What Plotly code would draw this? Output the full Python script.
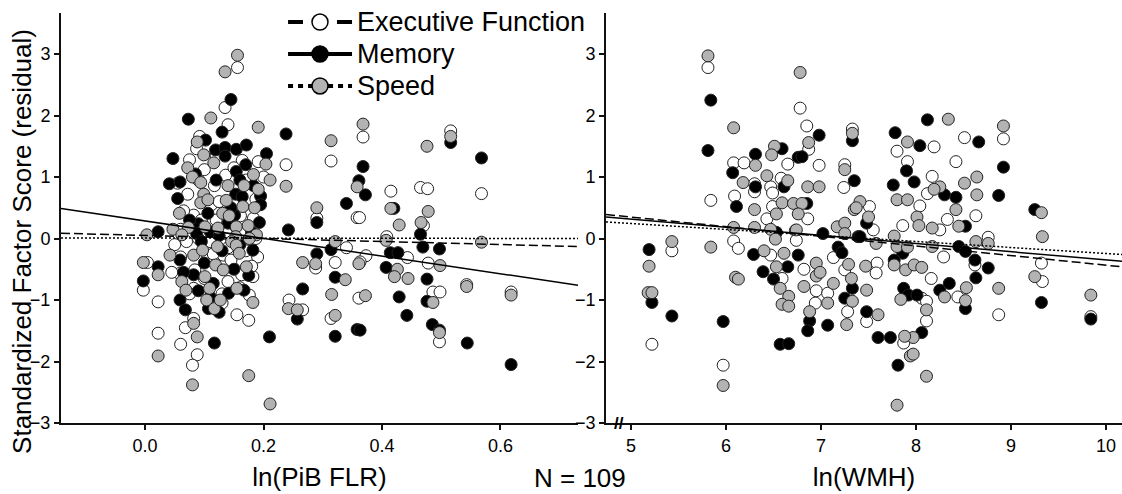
import plotly.graph_objects as go

# ---- data ----
# left panel: ln(PiB FLR)
pib_ef_x = [0.156, 0.135, 0.140, 0.092, 0.087, 0.075, 0.100, 0.164, 0.191, 0.136, 0.117, 0.072, 0.112, 0.148, 0.187,
            0.082, 0.161, 0.183, 0.137, 0.004, -0.003, 0.022, 0.022, 0.060, 0.058, 0.082, 0.068, 0.060, 0.088, 0.080,
            0.084, 0.104, 0.082, 0.130, 0.132, 0.150, 0.163, 0.182, 0.176, 0.155, 0.175, 0.187,
            0.368, 0.314, 0.238, 0.290, 0.358, 0.362, 0.415, 0.465, 0.477, 0.470, 0.516, 0.568, 0.340, 0.408, 0.373,
            0.443, 0.288, 0.321, 0.363, 0.478, 0.361, 0.486, 0.498, 0.543, 0.618, 0.243, 0.266, 0.314, 0.497,
            0.050, 0.120, 0.090, 0.170, 0.045, 0.100, 0.140, 0.120, 0.150, 0.090, 0.065, 0.170, 0.110, 0.160, 0.200,
            0.070, 0.190, 0.130, 0.155, 0.125, 0.180, 0.055, 0.095, 0.145, 0.075, 0.115, 0.060, 0.140, 0.160]
pib_ef_y = [2.78, 2.13, 1.85, 1.66, 1.46, 1.28, 1.12, 1.27, 1.25, 1.03, 0.86, 0.72, 0.55, 0.57, 0.64,
            0.38, 0.37, 0.33, 0.08, -0.39, -0.84, -1.03, -1.54, -0.30, -0.57, -1.30, -1.45, -1.72, -1.89, -2.06,
            -0.51, -0.35, -0.81, -0.90, -0.27, -0.49, -0.59, -0.62, -0.92, -1.24, -1.33, 0.00,
            1.65, 1.26, 1.20, 0.33, 0.34, 0.34, 0.77, 0.83, 0.81, 0.21, 1.75, 0.73, -0.15, 0.03, -0.28,
            -0.31, -0.48, -0.39, -0.38, -0.40, -0.97, -0.87, -0.87, -0.75, -0.87, -1.00, -1.16, -1.30, -1.68,
            -0.10, 0.30, 0.00, -0.20, -0.55, -0.65, -0.70, 1.35, 1.15, 0.95, 0.45, 0.95, -0.05, 0.10, 1.00,
            -0.05, -0.30, -1.05, 0.80, 0.60, -0.45, 0.90, 0.30, -0.35, -0.90, -0.25, 0.15, -0.15, -0.80]

pib_mem_x = [0.145, 0.073, 0.130, 0.102, 0.119, 0.135, 0.135, 0.154, 0.171, 0.205, 0.047, 0.154, 0.041, 0.059, 0.183,
             0.153, 0.164, 0.106, 0.151, 0.193, 0.090, 0.022, 0.087, 0.110, 0.022, -0.003, 0.059, 0.059, 0.068, 0.117,
             0.210, 0.082, 0.115, 0.107, 0.141, 0.167, 0.182,
             0.238, 0.368, 0.361, 0.372, 0.195, 0.290, 0.340, 0.420, 0.465, 0.516, 0.568, 0.242, 0.314, 0.290, 0.414,
             0.427, 0.469, 0.497, 0.407, 0.321, 0.266, 0.429, 0.476, 0.476, 0.257, 0.321, 0.358, 0.363, 0.442, 0.485,
             0.497, 0.544, 0.618,
             0.095, 0.125, 0.160, 0.075, 0.140, 0.180, 0.065, 0.100, 0.150, 0.120, 0.170, 0.085, 0.130, 0.195, 0.055,
             0.110, 0.145, 0.175, 0.090, 0.160, 0.125]
pib_mem_y = [2.26, 1.94, 1.73, 1.60, 1.44, 1.48, 1.34, 1.45, 1.52, 1.38, 1.30, 1.09, 0.89, 0.92, 0.86,
             0.72, 0.68, 0.41, 0.38, 0.26, 0.24, 0.11, 0.08, 0.11, -0.46, -0.69, -0.35, -1.00, -1.16, -1.70,
             -1.60, -0.59, -0.73, -1.14, -0.89, -0.84, -0.19,
             1.70, 1.17, 0.94, 0.71, 0.69, 0.26, 0.57, 0.49, 0.07, 1.56, 1.31, 0.14, -0.18, -0.25, -0.23,
             -0.23, -0.14, -0.17, -0.47, -0.63, -0.82, -0.95, -0.66, -1.02, -1.31, -1.59, -1.48, -1.49, -1.25, -1.40,
             -1.49, -1.70, -2.05,
             -0.05, 0.05, -0.10, 0.30, 0.25, 0.10, -0.55, -0.40, -0.50, 0.95, 1.20, 1.05, -0.20, 0.55, 0.65,
             -0.95, 0.50, -0.60, -0.85, 0.95, -1.20]

pib_spd_x = [0.156, 0.135, 0.111, 0.191, 0.088, 0.099, 0.072, 0.116, 0.204, 0.183, 0.080, 0.094, 0.140, 0.167, 0.191,
             0.099, 0.094, 0.106, 0.137, 0.165, 0.185, 0.058, 0.131, 0.142, 0.073, 0.101, 0.123, 0.154, 0.174, 0.003,
             0.047, 0.062, 0.153, 0.188, -0.003, 0.022, 0.022, 0.042, 0.062, 0.069, 0.082, 0.088, 0.080, 0.175, 0.211,
             0.082, 0.097, 0.101, 0.119, 0.132, 0.109, 0.104, 0.117, 0.127, 0.122, 0.146, 0.154, 0.159, 0.171, 0.155,
             0.182, 0.176,
             0.368, 0.314, 0.358, 0.238, 0.211, 0.290, 0.415, 0.429, 0.478, 0.466, 0.516, 0.476, 0.568, 0.321, 0.407,
             0.266, 0.288, 0.361, 0.426, 0.421, 0.444, 0.498, 0.338, 0.315, 0.372, 0.486, 0.543, 0.618, 0.242, 0.257,
             0.321, 0.497]
pib_spd_y = [2.98, 2.71, 1.96, 1.81, 1.57, 1.36, 1.15, 1.23, 1.21, 1.04, 1.00, 0.91, 0.86, 0.86, 0.80,
             0.72, 0.58, 0.63, 0.62, 0.52, 0.50, 0.41, 0.41, 0.37, 0.18, 0.19, 0.17, 0.19, 0.21, 0.06,
             0.15, 0.06, 0.03, 0.06, -0.39, -0.59, -1.91, -0.27, -0.70, -0.84, -1.38, -1.60, -2.38, -2.23, -2.69,
             -0.27, -0.19, -0.62, -0.43, -0.51, -0.81, -1.00, -1.14, -1.00, -0.13, -0.05, -0.11, -0.24, -0.46, -0.81,
             -1.04, 0.00,
             1.86, 1.59, 0.84, 0.85, 0.95, 0.50, 0.49, 0.22, 0.44, 0.26, 1.66, 1.50, -0.06, -0.05, -0.03,
             -0.39, -0.41, -0.41, -0.50, -0.62, -0.65, -0.44, -0.67, -0.91, -0.93, -1.04, -0.78, -0.92, -1.14, -1.16,
             -1.25, -1.53]

# right panel: ln(WMH)
wmh_ef_x = [5.81, 5.84, 6.78, 6.85, 6.87, 6.98, 6.65, 6.08, 6.19, 6.30, 6.30, 6.09, 6.47, 6.58, 6.49,
            6.86, 6.43, 6.49, 7.24, 7.25, 7.33, 6.08, 6.13, 6.47, 6.59, 6.73, 6.74, 6.82, 6.95, 6.94,
            7.07, 7.13, 7.25, 7.28, 5.22, 5.43, 5.97,
            8.19, 7.80, 8.51, 8.92, 7.91, 8.42, 8.17, 8.12, 8.63, 8.04, 8.33, 7.86, 8.25, 7.51, 7.55,
            8.76, 8.29, 8.62, 7.59, 7.58, 8.16, 8.44, 8.87, 8.06, 8.11, 8.11, 7.87, 7.48, 9.32, 9.33, 9.84]
wmh_ef_y = [2.78, 0.62, 2.12, 1.83, 1.45, 1.19, 1.21, 1.23, 1.23, 0.89, 0.76, 0.69, 0.84, 0.98, 0.74,
            0.32, 0.32, 0.52, 0.83, 1.20, 1.78, -0.04, -0.16, -0.27, -0.65, 0.13, -0.03, -0.50, -0.85, -1.05,
            -0.89, -0.31, -0.51, -1.19, -1.72, -0.20, -2.06,
            1.49, 1.42, 1.64, 1.62, 1.25, 1.25, 1.01, 0.73, 0.37, 0.53, 0.31, 0.21, 0.14, 0.52, 0.14,
            0.02, -0.30, -0.43, -0.40, -0.56, -0.65, -0.95, -1.24, -0.97, -1.02, -1.34, -1.70, -1.35, -0.40, -0.70, -1.27]

wmh_mem_x = [5.84, 5.81, 6.98, 6.76, 6.80, 6.59, 6.31, 6.07, 6.31, 6.61, 6.11, 6.85, 7.33, 7.35, 6.29,
             6.39, 6.53, 6.50, 6.65, 6.57, 6.66, 6.76, 6.88, 6.86, 7.07, 7.02, 7.18, 7.22, 7.33, 7.25,
             7.39, 5.19, 5.22, 5.43, 5.97,
             8.12, 7.78, 8.04, 8.66, 7.90, 7.98, 7.76, 8.30, 8.42, 8.92, 8.87, 8.52, 7.41, 7.48, 7.86,
             8.45, 8.52, 8.62, 8.76, 8.63, 7.77, 8.25, 8.35, 8.52, 7.87, 7.92, 8.01, 8.06, 7.73, 7.81,
             7.60, 7.48, 9.25, 9.32, 9.84]
wmh_mem_y = [2.25, 1.43, 1.68, 1.32, 1.33, 1.46, 1.37, 1.07, 0.84, 0.84, 0.52, 0.57, 1.59, 0.94, -0.26,
             -0.54, 0.10, -0.66, -0.46, -1.72, -1.71, -0.27, -1.34, -1.50, -1.41, 0.08, -0.14, -0.23, -0.81, -0.97,
             0.03, -0.18, -1.04, -1.26, -1.35,
             1.93, 1.72, 1.51, 1.57, 1.10, 0.92, 0.87, 0.71, 0.67, 1.16, 0.70, 0.20, 0.03, 0.25, -0.24,
             -0.13, -0.21, -0.35, -0.48, -0.64, -0.35, -0.84, -0.73, -1.14, -0.81, -0.92, -0.92, -1.53, -1.61, -2.06,
             -1.61, -1.19, 0.47, -1.04, -1.31]

wmh_spd_x = [5.81, 5.84, 6.08, 6.78, 6.87, 6.51, 6.48, 6.31, 6.18, 6.30, 6.43, 6.65, 6.59, 6.71, 6.80,
             6.76, 6.53, 6.86, 6.98, 7.25, 7.33, 7.35, 6.08, 6.10, 6.13, 6.30, 6.40, 6.47, 6.52, 6.53,
             6.61, 6.57, 6.66, 6.59, 6.66, 6.74, 6.82, 6.95, 6.95, 6.88, 6.99, 7.07, 7.13, 7.17, 7.25,
             7.25, 7.29, 7.32, 7.33, 7.27, 5.19, 5.18, 5.22, 5.43, 5.97,
             8.34, 7.91, 8.92, 8.25, 8.19, 8.51, 8.64, 8.64, 7.80, 7.91, 8.42, 8.45, 8.01, 8.03, 8.17,
             7.77, 7.50, 7.41, 7.37, 7.58, 7.80, 7.91, 8.17, 8.63, 8.76, 7.77, 7.89, 7.98, 8.06, 7.48,
             7.47, 8.30, 8.53, 8.52, 8.87, 7.84, 8.11, 7.97, 7.88, 7.94, 7.97, 8.11, 7.80, 7.60, 9.32,
             9.33, 9.25, 9.84]
wmh_spd_y = [2.97, -0.14, 1.80, 2.70, 1.56, 1.50, 1.36, 1.19, 0.91, 0.47, 1.02, 0.94, 0.58, 0.57, 0.57,
             0.40, 0.40, 0.84, 0.84, 1.12, 1.71, 0.47, 0.18, -0.63, -0.66, 0.18, -0.20, 0.15, -0.01, -0.46,
             -0.24, -0.81, -0.94, -1.07, -1.10, 0.14, -0.78, -0.40, -0.61, -1.19, -0.55, -1.05, -0.73, 0.19, 0.25,
             0.08, -0.42, -0.65, -1.02, -1.40, -0.45, -0.88, -0.88, -0.05, -2.39,
             1.94, 1.57, 1.83, 0.84, 0.80, 0.90, 1.00, 0.71, 0.63, 0.63, 0.47, 0.20, 0.35, 0.21, 0.17,
             0.04, 0.35, 0.60, 0.50, -0.08, -0.13, -0.14, -0.13, -0.05, -0.08, -0.43, -0.51, -0.43, -0.47, -0.84,
             -0.45, -0.95, -0.80, -1.01, -0.81, -0.99, -1.16, -1.61, -1.59, -1.91, -1.88, -2.24, -2.71, -1.24, 0.42,
             0.03, -0.62, -0.92]

# fitted regression lines (end points across each axis range)
pib_fit_x = [-0.142, 0.731]
pib_fit_ef = [0.085, -0.13]
pib_fit_mem = [0.49, -0.76]
pib_fit_spd = [0.01, 0.00]
wmh_fit_x = [4.737, 10.168]
wmh_fit_ef = [0.39, -0.46]
wmh_fit_mem = [0.35, -0.37]
wmh_fit_spd = [0.27, -0.26]

names = ["Executive Function", "Memory", "Speed"]
fills = ["white", "black", "#b3b3b3"]
fit_dash = ["9px,4px", "solid", "2px,2px"]

FONT = "Arial, Liberation Sans, Helvetica, sans-serif"

fig = go.Figure()

panels = [
    ("x", "y", [(pib_ef_x, pib_ef_y), (pib_mem_x, pib_mem_y), (pib_spd_x, pib_spd_y)],
     pib_fit_x, [pib_fit_ef, pib_fit_mem, pib_fit_spd]),
    ("x2", "y2", [(wmh_ef_x, wmh_ef_y), (wmh_mem_x, wmh_mem_y), (wmh_spd_x, wmh_spd_y)],
     wmh_fit_x, [wmh_fit_ef, wmh_fit_mem, wmh_fit_spd]),
]

for xa, ya, pts, fx, fys in panels:
    for (px, py), fill, nm in zip(pts, fills, names):
        fig.add_trace(go.Scatter(x=px, y=py, xaxis=xa, yaxis=ya, mode="markers", name=nm, showlegend=False,
                                 marker=dict(size=12, color=fill, line=dict(color="#222", width=1))))
    for fy, dash in zip(fys, fit_dash):
        fig.add_trace(go.Scatter(x=fx, y=fy, xaxis=xa, yaxis=ya, mode="lines", showlegend=False,
                                 line=dict(color="black", width=1.5, dash=dash)))

# hand-built legend (line sample, circle, label) in the top of the left panel
shapes = []
annotations = []
row_y = [0.978, 0.900, 0.822]
x_l, x_r, x_c, x_txt = 0.2140, 0.2743, 0.2441, 0.2771
for ry, name, fill in zip(row_y, names, fills):
    if name == "Executive Function":
        for a, b in [(x_l, 0.2281), (0.2601, x_r)]:
            shapes.append(dict(type="line", xref="paper", yref="paper", x0=a, x1=b, y0=ry, y1=ry,
                               line=dict(color="black", width=4)))
    elif name == "Memory":
        shapes.append(dict(type="line", xref="paper", yref="paper", x0=x_l, x1=x_r, y0=ry, y1=ry,
                           line=dict(color="black", width=4)))
    else:
        shapes.append(dict(type="line", xref="paper", yref="paper", x0=x_l, x1=x_r, y0=ry, y1=ry,
                           line=dict(color="black", width=4, dash="5px,5px")))
    shapes.append(dict(type="circle", xref="paper", yref="paper", xsizemode="pixel", ysizemode="pixel",
                       xanchor=x_c, yanchor=ry, x0=-8, x1=8, y0=-8, y1=8,
                       fillcolor=fill, line=dict(color="black", width=1.5)))
    annotations.append(dict(text=name, xref="paper", yref="paper", x=x_txt, y=ry, xanchor="left",
                            yanchor="middle", showarrow=False,
                            font=dict(family=FONT, size=27, color="black")))

annotations += [
    dict(text="Standardized Factor Score (residual)", textangle=-90, xref="paper", yref="paper",
         x=-0.0368, y=0.444, xanchor="center", yanchor="middle", showarrow=False,
         font=dict(family=FONT, size=26, color="black")),
    dict(text="N = 109", xref="paper", yref="paper", x=0.489, y=-0.134, xanchor="center",
         yanchor="middle", showarrow=False, font=dict(family=FONT, size=26, color="black")),
    dict(text="<b>//</b>", xref="x2", yref="paper", x=4.874, y=0, xanchor="center", yanchor="middle",
         showarrow=False, font=dict(family=FONT, size=17, color="black")),
]

axis_common = dict(showline=True, linecolor="#111", linewidth=2, ticks="outside", ticklen=5,
                   tickwidth=1.5, tickcolor="#111", showgrid=False, zeroline=False,
                   tickfont=dict(family=FONT, size=18, color="black"))

fig.update_layout(
    width=1122, height=494,
    margin=dict(l=61, r=0, t=13, b=71),
    plot_bgcolor="white", paper_bgcolor="white",
    font=dict(family=FONT, color="black"),
    showlegend=False,
    xaxis=dict(domain=[0, 0.4873], range=[-0.142, 0.731], tickvals=[0.0, 0.2, 0.4, 0.6],
               ticktext=["0.0", "0.2", "0.4", "0.6"],
               title=dict(text="ln(PiB FLR)", font=dict(size=26), standoff=13), **axis_common),
    yaxis=dict(domain=[0, 1], range=[-3, 3.667], tickvals=[-3, -2, -1, 0, 1, 2, 3], **axis_common),
    xaxis2=dict(domain=[0.5137, 1], range=[4.737, 10.168], tickvals=[5, 6, 7, 8, 9, 10], anchor="y2",
                title=dict(text="ln(WMH)", font=dict(size=26), standoff=13), **axis_common),
    yaxis2=dict(domain=[0, 1], range=[-3, 3.667], tickvals=[-3, -2, -1, 0, 1, 2, 3], anchor="x2",
                **axis_common),
    shapes=shapes,
    annotations=annotations,
)

fig.write_html("out.html", config={"displayModeBar": False},
               post_script="document.body.style.margin='0';")
